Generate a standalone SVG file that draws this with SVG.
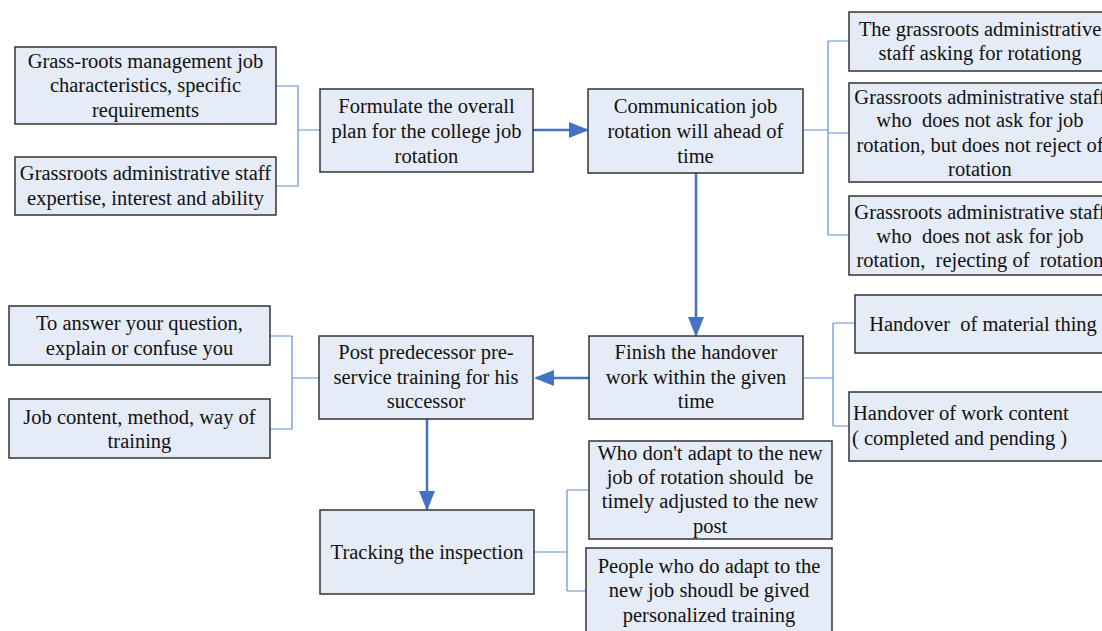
<svg xmlns="http://www.w3.org/2000/svg" width="1102" height="631" viewBox="0 0 1102 631">
<style>
.box{fill:#E6ECF7;stroke:#333333;stroke-width:1.5}
text{font-family:'Liberation Serif','Times New Roman',serif;font-size:20.5px;fill:#111111;text-anchor:middle;white-space:pre}
.ts{text-anchor:start}
.thin{fill:none;stroke:#5F8ED4;stroke-width:1.2}
.thick{fill:none;stroke:#4472C4;stroke-width:2.5}
</style>
<defs>
<marker id="ahb" markerWidth="20" markerHeight="16" refX="18" refY="8" orient="auto" markerUnits="userSpaceOnUse" viewBox="0 0 20 16">
<path d="M0,0 L20,8 L0,16 z" fill="#4472C4"/>
</marker>
</defs>
<rect width="1102" height="631" fill="#FFFFFF"/>
<g id="connectors">
<path class="thin" d="M276,86 H298 V186 H276 M298,130 H320"/>
<path class="thin" d="M803,130 H828 M828,41 V235 M828,41 H849 M828,133 H849 M828,235 H849"/>
<path class="thin" d="M270,336 H292 V429 H270 M292,378 H319"/>
<path class="thin" d="M803,378 H833 M833,323 V426 M833,323 H855 M833,426 H849"/>
<path class="thin" d="M534,552 H567 M567,490 V591 M567,490 H589 M567,591 H586"/>
<path class="thick" d="M533,130 H587" marker-end="url(#ahb)"/>
<path class="thick" d="M696,173 V335" marker-end="url(#ahb)"/>
<path class="thick" d="M589,378 H536" marker-end="url(#ahb)"/>
<path class="thick" d="M427,419 V509" marker-end="url(#ahb)"/>
</g>
<g id="n1"><rect class="box" x="15" y="47" width="261" height="77"/>
<text x="145.5" y="68">Grass-roots management job</text>
<text x="145.5" y="92">characteristics, specific</text>
<text x="145.5" y="117">requirements</text></g>
<g id="n2"><rect class="box" x="15" y="157" width="261" height="58"/>
<text x="145.5" y="180">Grassroots administrative staff</text>
<text x="145.5" y="205">expertise, interest and ability</text></g>
<g id="n3"><rect class="box" x="320" y="89" width="213" height="83"/>
<text x="426.5" y="113">Formulate the overall</text>
<text x="426.5" y="138">plan for the college job</text>
<text x="426.5" y="163">rotation</text></g>
<g id="n4"><rect class="box" x="588" y="89" width="215" height="84"/>
<text x="695.5" y="113">Communication job</text>
<text x="695.5" y="138">rotation will ahead of</text>
<text x="695.5" y="163">time</text></g>
<g id="n5"><rect class="box" x="849" y="12" width="262" height="59"/>
<text x="980" y="36">The grassroots administrative</text>
<text x="980" y="60">staff asking for rotationg</text></g>
<g id="n6"><rect class="box" x="849" y="83" width="262" height="99"/>
<text x="980" y="104">Grassroots administrative staff</text>
<text x="980" y="127">who  does not ask for job</text>
<text x="980" y="152">rotation, but does not reject of</text>
<text x="980" y="176">rotation</text></g>
<g id="n7"><rect class="box" x="849" y="196" width="262" height="79"/>
<text x="980" y="219">Grassroots administrative staff</text>
<text x="980" y="243">who  does not ask for job</text>
<text x="980" y="267">rotation,  rejecting of  rotation</text></g>
<g id="n8"><rect class="box" x="9" y="306" width="261" height="59"/>
<text x="139.5" y="330">To answer your question,</text>
<text x="139.5" y="355">explain or confuse you</text></g>
<g id="n9"><rect class="box" x="9" y="399" width="261" height="59"/>
<text x="139.5" y="424">Job content, method, way of</text>
<text x="139.5" y="448">training</text></g>
<g id="n10"><rect class="box" x="319" y="336" width="214" height="83"/>
<text x="426" y="359">Post predecessor pre-</text>
<text x="426" y="384">service training for his</text>
<text x="426" y="408">successor</text></g>
<g id="n11"><rect class="box" x="589" y="336" width="214" height="83"/>
<text x="696" y="359">Finish the handover</text>
<text x="696" y="384">work within the given</text>
<text x="696" y="408">time</text></g>
<g id="n12"><rect class="box" x="855" y="295" width="256" height="58"/>
<text x="983" y="331">Handover  of material thing</text></g>
<g id="n13"><rect class="box" x="849" y="392" width="262" height="69"/>
<text class="ts" x="853" y="420">Handover of work content</text>
<text class="ts" x="852" y="445">( completed and pending )</text></g>
<g id="n14"><rect class="box" x="320" y="510" width="214" height="84"/>
<text x="427" y="559">Tracking the inspection</text></g>
<g id="n15"><rect class="box" x="589" y="441" width="243" height="98"/>
<text x="710" y="460">Who don't adapt to the new</text>
<text x="710" y="484">job of rotation should  be</text>
<text x="710" y="508">timely adjusted to the new</text>
<text x="710" y="533">post</text></g>
<g id="n16"><rect class="box" x="586" y="548" width="246" height="86"/>
<text x="709" y="573">People who do adapt to the</text>
<text x="709" y="597">new job shoudl be gived</text>
<text x="709" y="622">personalized training</text></g>
</svg>
